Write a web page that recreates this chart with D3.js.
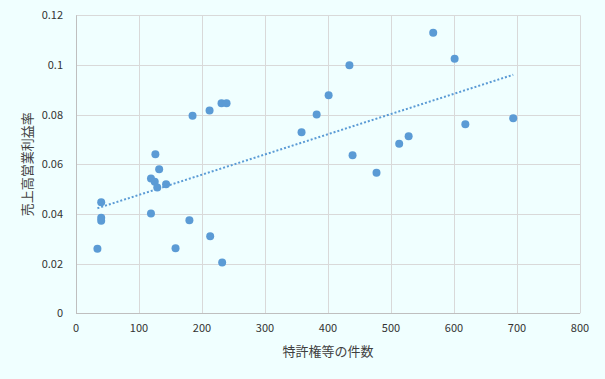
<!DOCTYPE html>
<html><head><meta charset="utf-8">
<script src="https://cdn.jsdelivr.net/npm/d3@7"></script>
<style>html,body{margin:0;padding:0;background:#F0FFFF;}svg{display:block;}</style>
</head><body><svg id="c" width="605" height="379"></svg>
<script>
const patentCounts = [34, 40, 40, 40, 119, 126, 132, 119, 125, 129, 143, 158, 180, 213, 232, 185, 212, 231, 239, 358, 382, 401, 434, 567, 601, 439, 477, 513, 528, 618, 694];
const profitRates = [0.026, 0.0385, 0.0373, 0.0447, 0.0402, 0.064, 0.058, 0.0543, 0.053, 0.0507, 0.052, 0.0262, 0.0375, 0.031, 0.0205, 0.0796, 0.0817, 0.0846, 0.0846, 0.0729, 0.0801, 0.0878, 0.0999, 0.113, 0.1025, 0.0636, 0.0566, 0.0683, 0.0713, 0.0761, 0.0785];
const xTicks = [0, 100, 200, 300, 400, 500, 600, 700, 800];
const yTicks = [0, 0.02, 0.04, 0.06, 0.08, 0.1, 0.12];
const xTitle = "特許権等の件数";
const yTitle = "売上高営業利益率";

const svg = d3.select("#c");
const W = 605, H = 379;
svg.append("rect").attr("width", W).attr("height", H).attr("fill", "#F0FFFF");
const m = {left: 76, right: 580, top: 15.3, bottom: 313.3};
const x = d3.scaleLinear().domain([0, 800]).range([m.left, m.right]);
const y = d3.scaleLinear().domain([0, 0.12]).range([m.bottom, m.top]);
const font = "'Noto Sans CJK JP', 'Noto Sans', sans-serif";

// gridlines
const g = svg.append("g");
g.selectAll(".vg").data(xTicks.slice(1)).join("line")
  .attr("x1", d => Math.round(x(d)) + 0.5).attr("x2", d => Math.round(x(d)) + 0.5)
  .attr("y1", m.top).attr("y2", m.bottom).attr("stroke", "#D9D9D9").attr("stroke-width", 1);
g.selectAll(".hg").data(yTicks.slice(1)).join("line")
  .attr("y1", d => Math.round(y(d)) + 0.5).attr("y2", d => Math.round(y(d)) + 0.5)
  .attr("x1", m.left).attr("x2", m.right).attr("stroke", "#D9D9D9").attr("stroke-width", 1);
// axis lines
g.append("line").attr("x1", Math.round(m.left) + 0.5).attr("x2", Math.round(m.left) + 0.5)
  .attr("y1", m.top).attr("y2", m.bottom).attr("stroke", "#BFBFBF");
g.append("line").attr("x1", m.left).attr("x2", m.right)
  .attr("y1", Math.round(m.bottom) + 0.5).attr("y2", Math.round(m.bottom) + 0.5).attr("stroke", "#BFBFBF");

// tick labels
svg.append("g").selectAll("text").data(xTicks).join("text")
  .attr("x", d => x(d)).attr("y", 332).attr("text-anchor", "middle")
  .attr("font-family", font).attr("font-size", 11).attr("fill", "#333")
  .text(d => d);
svg.append("g").selectAll("text").data(yTicks).join("text")
  .attr("x", 63).attr("y", d => y(d) + 4).attr("text-anchor", "end")
  .attr("font-family", font).attr("font-size", 11).attr("fill", "#333")
  .text(d => d);

// titles
svg.append("text").attr("x", (m.left + m.right) / 2).attr("y", 356).attr("text-anchor", "middle")
  .attr("font-family", font).attr("font-size", 13).attr("fill", "#404040").text(xTitle);
svg.append("text").attr("transform", `translate(32,${(m.top + m.bottom) / 2}) rotate(-90)`)
  .attr("text-anchor", "middle").attr("font-family", font).attr("font-size", 13)
  .attr("fill", "#404040").text(yTitle);

// points
const pts = patentCounts.map((v, i) => ({x: v, y: profitRates[i]}));
svg.append("g").selectAll("circle").data(pts).join("circle")
  .attr("cx", d => x(d.x)).attr("cy", d => y(d.y)).attr("r", 4)
  .attr("fill", "#5B9BD5");

// linear trend line (least squares)
const mx = d3.mean(pts, d => d.x), my = d3.mean(pts, d => d.y);
const sxy = d3.sum(pts, d => (d.x - mx) * (d.y - my));
const sxx = d3.sum(pts, d => (d.x - mx) ** 2);
const slope = sxy / sxx, icpt = my - slope * mx;
const [x0, x1] = d3.extent(pts, d => d.x);
svg.append("line")
  .attr("x1", x(x0)).attr("y1", y(icpt + slope * x0))
  .attr("x2", x(x1)).attr("y2", y(icpt + slope * x1))
  .attr("stroke", "#5B9BD5").attr("stroke-width", 2).attr("stroke-dasharray", "2 2");
</script></body></html>
